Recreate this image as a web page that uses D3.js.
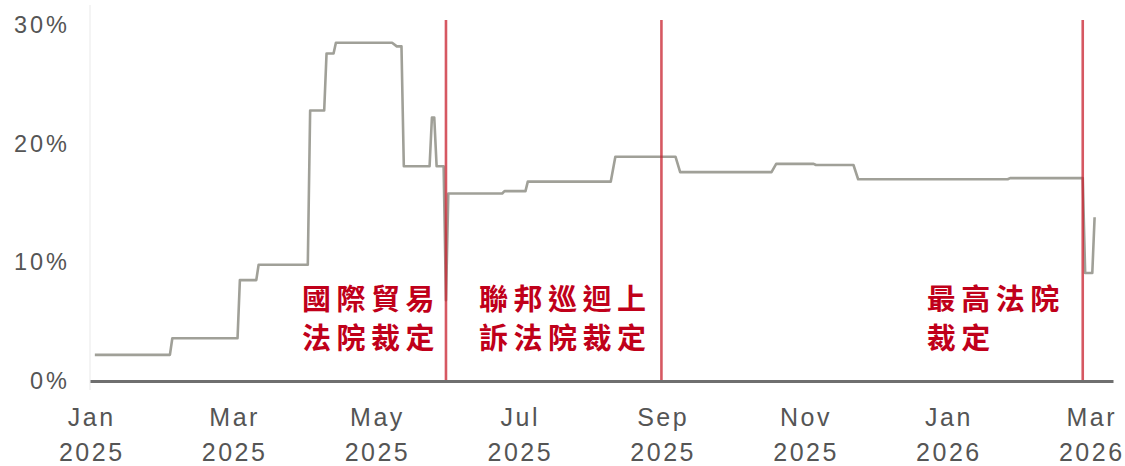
<!DOCTYPE html>
<html>
<head>
<meta charset="utf-8">
<script src="https://cdn.jsdelivr.net/npm/d3@7"></script>
<style>
  body { margin: 0; background: #fff; }
  svg { display: block; }
</style>
</head>
<body>
<svg id="chart" width="1125" height="466"></svg>
<script>
// Bi-monthly ticks along the bottom
const tickDates = ["2025-01-01", "2025-03-01", "2025-05-01", "2025-07-01",
                   "2025-09-01", "2025-11-01", "2026-01-01", "2026-03-01"];
const tickMonths = ["Jan", "Mar", "May", "Jul", "Sep", "Nov", "Jan", "Mar"];
const tickYears  = ["2025", "2025", "2025", "2025", "2025", "2025", "2026", "2026"];
const axisEndDate = "2026-03-11";

const yTickValues = [0, 10, 20, 30];

// Effective tariff rate (%), change points of the daily series
const rateDates = [
  "2025-01-03", "2025-02-03", "2025-02-04", "2025-03-03", "2025-03-04",
  "2025-03-11", "2025-03-12", "2025-04-02", "2025-04-03", "2025-04-09",
  "2025-04-10", "2025-04-13", "2025-04-14", "2025-05-08", "2025-05-10",
  "2025-05-12", "2025-05-13", "2025-05-24", "2025-05-25", "2025-05-26",
  "2025-05-27", "2025-05-30", "2025-05-31", "2025-06-01", "2025-06-24",
  "2025-06-25", "2025-07-04", "2025-07-05", "2025-08-10", "2025-08-12",
  "2025-09-07", "2025-09-09", "2025-10-18", "2025-10-20", "2025-11-05",
  "2025-11-06", "2025-11-22", "2025-11-24", "2026-01-26", "2026-01-27",
  "2026-02-26", "2026-02-27", "2026-03-02", "2026-03-03"
];
const rateValues = [
  2.2, 2.2, 3.6, 3.6, 8.5,
  8.5, 9.8, 9.8, 22.8, 22.8,
  27.6, 27.6, 28.5, 28.5, 28.2,
  28.2, 18.1, 18.1, 22.2, 22.2,
  18.1, 18.1, 6.8, 15.8, 15.8,
  16.0, 16.0, 16.8, 16.8, 18.9,
  18.9, 17.6, 17.6, 18.3, 18.3,
  18.2, 18.2, 17.0, 17.0, 17.1,
  17.1, 9.1, 9.1, 13.8
];

// Court rulings
const eventDates = ["2025-05-31", "2025-09-01", "2026-02-26"];
const eventLabels = [
  ["國際貿易", "法院裁定"],
  ["聯邦巡迴上", "訴法院裁定"],
  ["最高法院", "裁定"]
];

const parse = d3.timeParse("%Y-%m-%d");
const svg = d3.select("#chart");

const plotLeft = 90, plotRight = 1113, plotTop = 25, plotBottom = 381;
const tickStep = (1090 - plotLeft) / (tickDates.length - 1);

// Ticks sit at equal spacing, so the time scale is piecewise across them
const xDomain = tickDates.map(parse).concat([parse(axisEndDate)]);
const xRange = tickDates.map((d, i) => plotLeft + i * tickStep).concat([plotRight]);
const x = d3.scaleTime().domain(xDomain).range(xRange);
const y = d3.scaleLinear().domain([0, 30]).range([plotBottom, plotTop]);

const series = rateDates.map((d, i) => ({ date: parse(d), value: rateValues[i] }));

// faint vertical axis rule
svg.append("line")
  .attr("x1", plotLeft).attr("x2", plotLeft)
  .attr("y1", 5).attr("y2", 390)
  .attr("stroke", "#f1f1f1").attr("stroke-width", 1.5);

// y axis labels
const yAxis = svg.append("g")
  .attr("transform", `translate(${plotLeft},0)`)
  .call(d3.axisLeft(y).tickValues(yTickValues).tickFormat(d => d + "%").tickSize(0).tickPadding(20));
yAxis.select(".domain").remove();
yAxis.selectAll("text")
  .attr("font-family", "'Liberation Sans', Arial, sans-serif")
  .attr("font-size", 23.5)
  .attr("letter-spacing", 3)
  .attr("fill", "#555");

// rate line
svg.append("path")
  .datum(series)
  .attr("fill", "none")
  .attr("stroke", "#a0a098")
  .attr("stroke-width", 2.6)
  .attr("stroke-linejoin", "round")
  .attr("d", d3.line().x(d => x(d.date)).y(d => y(d.value)));

// ruling markers
svg.append("g").selectAll("line")
  .data(eventDates)
  .join("line")
  .attr("x1", d => x(parse(d))).attr("x2", d => x(parse(d)))
  .attr("y1", 20).attr("y2", plotBottom)
  .attr("stroke", "#c8202e")
  .attr("stroke-opacity", 0.75)
  .attr("stroke-width", 2.6);

// x axis with the baseline as its domain
const xAxis = svg.append("g")
  .attr("transform", `translate(0,${plotBottom})`)
  .call(d3.axisBottom(x).tickValues(tickDates.map(parse)).tickSize(0).tickFormat(() => ""));
xAxis.select(".domain")
  .attr("stroke", "#6f6f6f")
  .attr("stroke-width", 3);
xAxis.selectAll(".tick text").remove();
xAxis.selectAll(".tick").each(function (d, i) {
  const t = d3.select(this).append("text")
    .attr("text-anchor", "middle")
    .attr("font-family", "'Liberation Sans', Arial, sans-serif")
    .attr("font-size", 25)
    .attr("letter-spacing", 2.5)
    .attr("fill", "#555");
  t.append("tspan").attr("x", 1.25).attr("y", 45).text(tickMonths[i]);
  t.append("tspan").attr("x", 1.25).attr("y", 80).text(tickYears[i]);
});

// ruling labels, each set just left of its marker
const labelLayout = [
  { anchor: "end",   dx: -6 },
  { anchor: "end",   dx: -10 },
  { anchor: "start", dx: -156 }
];
eventLabels.forEach((lines, i) => {
  const ex = x(parse(eventDates[i]));
  const t = svg.append("text")
    .attr("text-anchor", labelLayout[i].anchor)
    .attr("font-family", "'Noto Sans CJK TC', 'Noto Sans CJK SC', sans-serif")
    .attr("font-size", 29)
    .attr("font-weight", 700)
    .attr("letter-spacing", 5.5)
    .attr("fill", "#c0001a");
  lines.forEach((s, j) => {
    t.append("tspan")
      .attr("x", ex + labelLayout[i].dx)
      .attr("y", 310 + j * 39)
      .text(s);
  });
});
</script>
</body>
</html>
